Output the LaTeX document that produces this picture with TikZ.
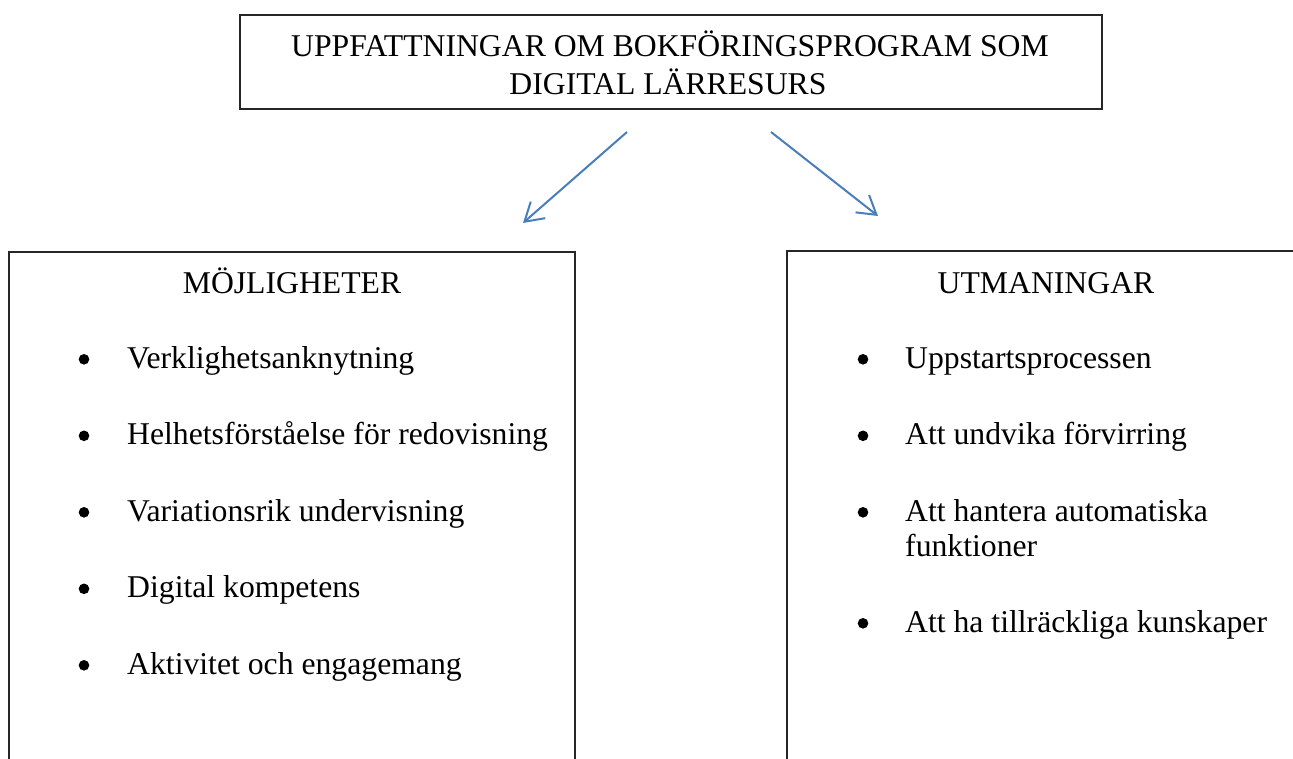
\documentclass[tikz,border=0pt]{standalone}
\usepackage{fontspec}
\setmainfont{Liberation Serif}
\usetikzlibrary{arrows.meta}
\definecolor{arrowblue}{RGB}{74,126,187}
\begin{document}
\begin{tikzpicture}[x=1pt,y=-1pt,
  box/.style={draw=black!85, line width=1.1pt, inner sep=0pt},
  txt/.style={inner sep=0pt, font=\fontsize{31.7}{35.5}\selectfont},
  conn/.style={draw=arrowblue, line width=2pt, -{Straight Barb[length=18pt,width=22pt]}},
  dot/.style={fill=black}]
\useasboundingbox (0,0) rectangle (1293,758);
\clip (0,0) rectangle (1293,758);
% boxes
\node[box, minimum width=862pt, minimum height=94pt] (topbox) at (671,62) {};
\node[box, minimum width=566pt, minimum height=548pt] (leftbox) at (292,526) {};
\node[box, minimum width=518pt, minimum height=549pt] (rightbox) at (1046,525.5) {};
% title
\node[txt, anchor=base] (title1) at (670,56) {UPPFATTNINGAR OM BOKFÖRINGSPROGRAM SOM};
\node[txt, anchor=base] (title2) at (668,94) {DIGITAL LÄRRESURS};
% arrows
\coordinate (l1) at (627,132);
\coordinate (l2) at (523,223);
\coordinate (r1) at (771,132);
\coordinate (r2) at (878,216);
\draw[conn] (l1) -- (l2);
\draw[conn] (r1) -- (r2);
% left column
\node[txt, anchor=base] (lhead) at (292,293) {MÖJLIGHETER};
\node[txt, anchor=base west] (li1) at (127,368) {Verklighetsanknytning};
\node[txt, anchor=base west] (li2) at (127,444.5) {Helhetsförståelse för redovisning};
\node[txt, anchor=base west] (li3) at (127,521) {Variationsrik undervisning};
\node[txt, anchor=base west] (li4) at (127,597.5) {Digital kompetens};
\node[txt, anchor=base west] (li5) at (127,674) {Aktivitet och engagemang};
\foreach \y in {368,444.5,521,597.5,674} \fill[dot] (84,\y-8.7) circle (5.3pt);
% right column
\node[txt, anchor=base] (rhead) at (1046,293) {UTMANINGAR};
\node[txt, anchor=base west] (ri1) at (905,368) {Uppstartsprocessen};
\node[txt, anchor=base west] (ri2) at (905,444.5) {Att undvika förvirring};
\node[txt, anchor=base west] (ri3a) at (905,521) {Att hantera automatiska};
\node[txt, anchor=base west] (ri3b) at (905,556.5) {funktioner};
\node[txt, anchor=base west] (ri4) at (905,632) {Att ha tillräckliga kunskaper};
\foreach \y in {368,444.5,521,632} \fill[dot] (863,\y-8.7) circle (5.3pt);
\end{tikzpicture}
\end{document}
